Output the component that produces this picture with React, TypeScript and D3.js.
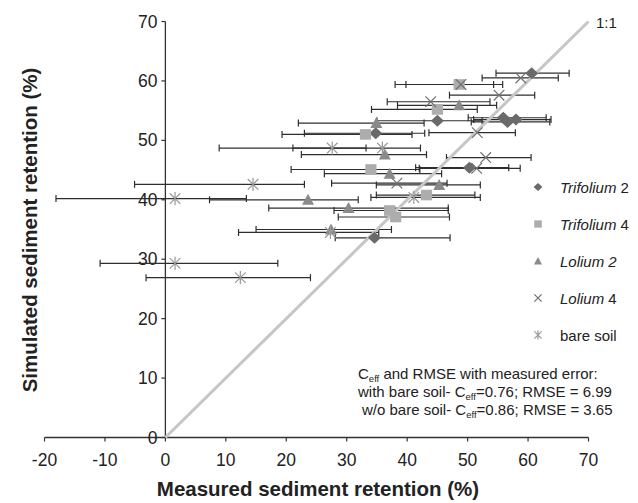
import React from "react";
import * as d3 from "d3";

// measured (x), simulated (y) and measured error range (lo/hi) per treatment
const trif2X = [60.6, 55.9, 56.6, 58.0, 45.0, 34.8, 50.3, 34.6];
const trif2Y = [61.3, 53.8, 53.1, 53.5, 53.3, 51.2, 45.4, 33.6];
const trif2Lo = [54.7, 50.1, 50.6, 51.0, 35.0, 23.0, 41.4, 28.1];
const trif2Hi = [66.8, 63.0, 63.6, 63.8, 52.4, 42.9, 56.8, 47.1];

const trif4X = [48.6, 45.0, 33.1, 34.0, 43.2, 37.1, 38.1];
const trif4Y = [59.4, 55.2, 51.0, 45.1, 40.8, 38.2, 37.1];
const trif4Lo = [38.0, 34.1, 19.3, 20.8, 34.9, 27.9, 28.6];
const trif4Hi = [55.8, 51.6, 40.8, 42.1, 51.2, 46.8, 47.0];

const lol2X = [48.6, 34.9, 36.3, 37.1, 45.3, 23.6, 30.3, 27.4];
const lol2Y = [55.9, 52.9, 47.6, 44.4, 42.5, 40.0, 38.6, 35.0];
const lol2Lo = [38.4, 22.0, 22.5, 26.3, 34.9, 7.3, 17.1, 15.0];
const lol2Hi = [54.8, 42.8, 43.2, 45.7, 52.1, 31.9, 46.8, 37.4];

const lol4X = [58.8, 48.9, 55.2, 43.9, 51.6, 53.0, 51.5, 38.3];
const lol4Y = [60.5, 59.4, 57.6, 56.5, 51.3, 47.1, 45.3, 42.8];
const lol4Lo = [52.4, 39.8, 47.0, 36.7, 43.6, 46.5, 42.0, 27.5];
const lol4Hi = [65.0, 54.3, 61.1, 53.7, 57.9, 60.5, 58.7, 46.6];

const bareX = [27.6, 35.9, 14.5, 1.6, 41.1, 27.3, 1.6, 12.4];
const bareY = [48.7, 48.7, 42.6, 40.2, 40.4, 34.5, 29.3, 26.9];
const bareLo = [21.1, 8.9, -5.1, -18.1, 34.0, 12.1, -10.8, -3.2];
const bareHi = [33.2, 42.2, 23.0, 13.4, 52.1, 35.3, 18.6, 24.0];

const xTicks = [-20, -10, 0, 10, 20, 30, 40, 50, 60, 70];
const yTicks = [0, 10, 20, 30, 40, 50, 60, 70];

const FONT = "'Liberation Sans', Arial, sans-serif";

type Series = {
  name: string;
  num: string;
  italic: boolean;
  shape: string;
  color: string;
  x: number[];
  y: number[];
  lo: number[];
  hi: number[];
};

const series: Series[] = [
  { name: "Trifolium", num: " 2", italic: true, shape: "diamond", color: "#6a6a6a", x: trif2X, y: trif2Y, lo: trif2Lo, hi: trif2Hi },
  { name: "Trifolium", num: " 4", italic: true, shape: "square", color: "#adadad", x: trif4X, y: trif4Y, lo: trif4Lo, hi: trif4Hi },
  { name: "Lolium 2", num: "", italic: true, shape: "triangle", color: "#8a8a8a", x: lol2X, y: lol2Y, lo: lol2Lo, hi: lol2Hi },
  { name: "Lolium", num: " 4", italic: true, shape: "cross", color: "#707070", x: lol4X, y: lol4Y, lo: lol4Lo, hi: lol4Hi },
  { name: "bare soil", num: "", italic: false, shape: "star", color: "#9a9a9a", x: bareX, y: bareY, lo: bareLo, hi: bareHi },
];

function Marker({ shape, color, k = 1 }: { shape: string; color: string; k?: number }) {
  if (shape === "diamond")
    return <path d={`M0,${-6 * k}L${6.5 * k},0L0,${6 * k}L${-6.5 * k},0Z`} fill={color} />;
  if (shape === "square")
    return <rect x={-5.6 * k} y={-5.3 * k} width={11.2 * k} height={10.6 * k} fill={color} />;
  if (shape === "triangle")
    return <path d={`M0,${-6 * k}L${6 * k},${5 * k}L${-6 * k},${5 * k}Z`} fill={color} />;
  const s = 5.3 * k;
  const cross = `M${-s},${-s}L${s},${s}M${-s},${s}L${s},${-s}`;
  if (shape === "cross") return <path d={cross} stroke={color} strokeWidth={1.2} fill="none" />;
  return <path d={`${cross}M0,${-s * 1.25}L0,${s * 1.25}`} stroke={color} strokeWidth={1.2} fill="none" />;
}

export default function App() {
  const x = d3.scaleLinear().domain([-20, 70]).range([44.5, 588.5]);
  const y = d3.scaleLinear().domain([0, 70]).range([437.5, 21.5]);
  const axisColor = "#333";

  return (
    <svg width={638} height={503} style={{ position: "absolute", left: 0, top: 0, background: "#fff" }} fontFamily={FONT}>
      {/* axes */}
      <line x1={x(-20)} x2={x(70)} y1={y(0)} y2={y(0)} stroke={axisColor} strokeWidth={1.3} />
      <line x1={x(0)} x2={x(0)} y1={y(0)} y2={y(70)} stroke={axisColor} strokeWidth={1.3} />
      {xTicks.map((t) => (
        <g key={"xt" + t}>
          <line x1={x(t)} x2={x(t)} y1={y(0)} y2={y(0) + 4} stroke={axisColor} strokeWidth={1.2} />
          <text x={x(t)} y={466} textAnchor="middle" fontSize={17.5} fill="#222">{t}</text>
        </g>
      ))}
      {yTicks.map((t) => (
        <g key={"yt" + t}>
          <line x1={x(0) - 4} x2={x(0)} y1={y(t)} y2={y(t)} stroke={axisColor} strokeWidth={1.2} />
          <text x={x(0) - 8} y={y(t) + 6} textAnchor="end" fontSize={17.5} fill="#222">{t}</text>
        </g>
      ))}

      {/* error bars */}
      {series.map((s) =>
        s.x.map((_, i) => (
          <g key={s.shape + "e" + i} stroke="#2e2e2e" strokeWidth={1.2}>
            <line x1={x(s.lo[i])} x2={x(s.hi[i])} y1={y(s.y[i])} y2={y(s.y[i])} />
            <line x1={x(s.lo[i])} x2={x(s.lo[i])} y1={y(s.y[i]) - 3.5} y2={y(s.y[i]) + 3.5} />
            <line x1={x(s.hi[i])} x2={x(s.hi[i])} y1={y(s.y[i]) - 3.5} y2={y(s.y[i]) + 3.5} />
          </g>
        ))
      )}

      {/* 1:1 line */}
      <line x1={x(0)} y1={y(0)} x2={x(70)} y2={y(70)} stroke="#c6c6c6" strokeWidth={3} />
      <text x={596} y={28} fontSize={15} fill="#222">1:1</text>

      {/* points */}
      {series.map((s) =>
        s.x.map((v, i) => (
          <g key={s.shape + "p" + i} transform={`translate(${x(v)},${y(s.y[i])})`}>
            <Marker shape={s.shape} color={s.color} />
          </g>
        ))
      )}

      {/* legend */}
      {series.map((s, i) => (
        <g key={"lg" + i} transform={`translate(538,${187 + i * 37})`}>
          <Marker shape={s.shape} color={s.color} k={0.68} />
          <text x={22} y={5.5} fontSize={15} fill="#222">
            <tspan fontStyle={s.italic ? "italic" : "normal"}>{s.name}</tspan>
            {s.num && <tspan>{s.num}</tspan>}
          </text>
        </g>
      ))}

      {/* stats annotation */}
      <text x={358} y={379} fontSize={15} fill="#222">
        C<tspan fontSize={9.5} dy={2.5}>eff</tspan><tspan dy={-2.5}> and RMSE with measured error:</tspan>
      </text>
      <text x={358} y={397} fontSize={15} fill="#222">
        with bare soil- C<tspan fontSize={9.5} dy={2.5}>eff</tspan><tspan dy={-2.5}>=0.76; RMSE = 6.99</tspan>
      </text>
      <text x={362} y={415} fontSize={15} fill="#222">
        w/o bare soil- C<tspan fontSize={9.5} dy={2.5}>eff</tspan><tspan dy={-2.5}>=0.86; RMSE = 3.65</tspan>
      </text>

      {/* axis titles */}
      <text x={318} y={496} textAnchor="middle" fontSize={20.5} fontWeight="bold" fill="#222">
        Measured sediment retention (%)
      </text>
      <text transform={`translate(37,230) rotate(-90)`} textAnchor="middle" fontSize={20.5} fontWeight="bold" fill="#222">
        Simulated sediment retention (%)
      </text>
    </svg>
  );
}
